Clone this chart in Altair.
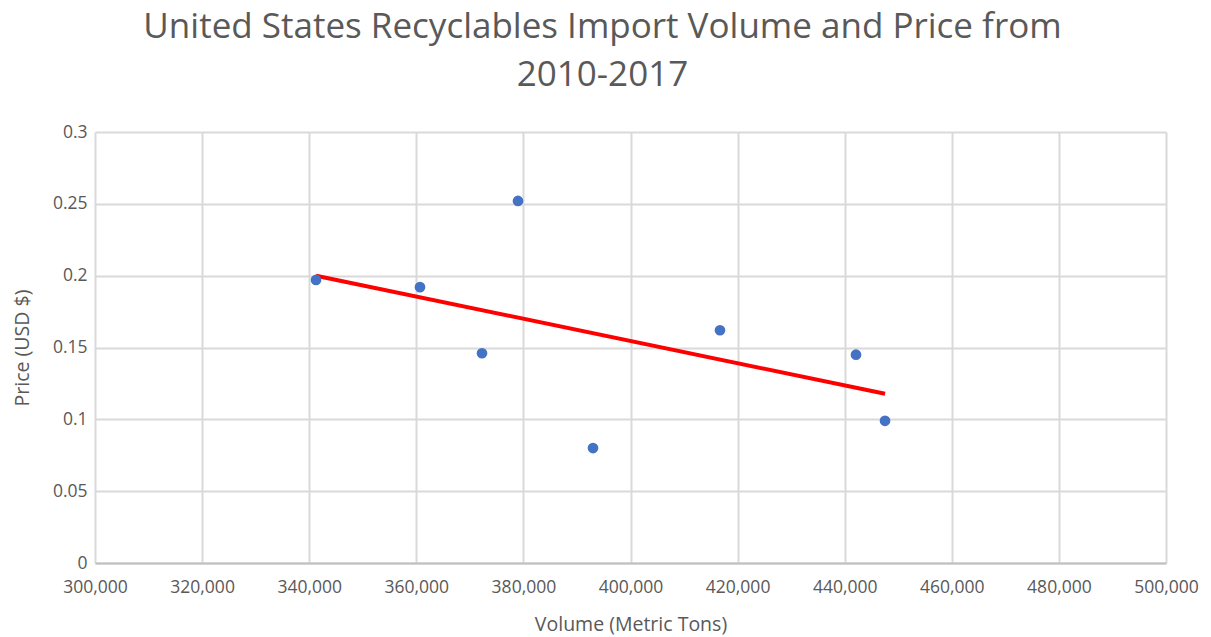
import altair as alt
import pandas as pd

volume = [341270, 360690, 372270, 378990, 393000, 416710, 442110, 447530]
price = [0.197, 0.192, 0.146, 0.252, 0.080, 0.162, 0.145, 0.099]

df = pd.DataFrame({"volume": volume, "price": price})

FONT = "Open Sans"
GREY = "#595959"

x = alt.X("volume:Q",
          scale=alt.Scale(domain=[300000, 500000], nice=False, zero=False),
          axis=alt.Axis(title="Volume (Metric Tons)", values=list(range(300000, 500001, 20000)),
                        format=",d", labelOverlap=False, labelFlush=False))
y = alt.Y("price:Q",
          scale=alt.Scale(domain=[0, 0.3], nice=False),
          axis=alt.Axis(title="Price (USD $)", values=[0, 0.05, 0.1, 0.15, 0.2, 0.25, 0.3],
                        labelExpr="format(datum.value, '~g')", labelOverlap=False, labelFlush=False))

points = alt.Chart(df).mark_circle(size=115, opacity=1, color="#4472C4").encode(x=x, y=y)

trend = alt.Chart(df).transform_regression("volume", "price").mark_line(
    color="#FF0000", strokeWidth=4).encode(x=x, y=y)

chart = alt.layer(trend, points).properties(
    width=1071, height=431,
    title=alt.TitleParams(
        text=["United States Recyclables Import Volume and Price from", "2010-2017"],
        font=FONT, fontSize=35, fontWeight="normal", color=GREY,
        anchor="middle", dx=-28, offset=30, lineHeight=48),
    autosize=alt.AutoSizeParams(type="none"),
    padding={"left": 95, "top": 132, "right": 45, "bottom": 74},
).configure_view(stroke=None).configure_axis(
    labelFont=FONT, titleFont=FONT, labelColor=GREY, titleColor=GREY,
    labelFontSize=17.5, titleFontSize=19.5, titleFontWeight="normal",
    gridColor="#D9D9D9", gridWidth=2, ticks=False, domain=False,
).configure_axisX(
    domain=True, domainColor="#BFBFBF", domainWidth=2, labelPadding=15, titlePadding=20,
).configure_axisY(
    labelPadding=8, titlePadding=20,
)

chart.save("out.html", embed_options={"renderer": "svg", "actions": False})
